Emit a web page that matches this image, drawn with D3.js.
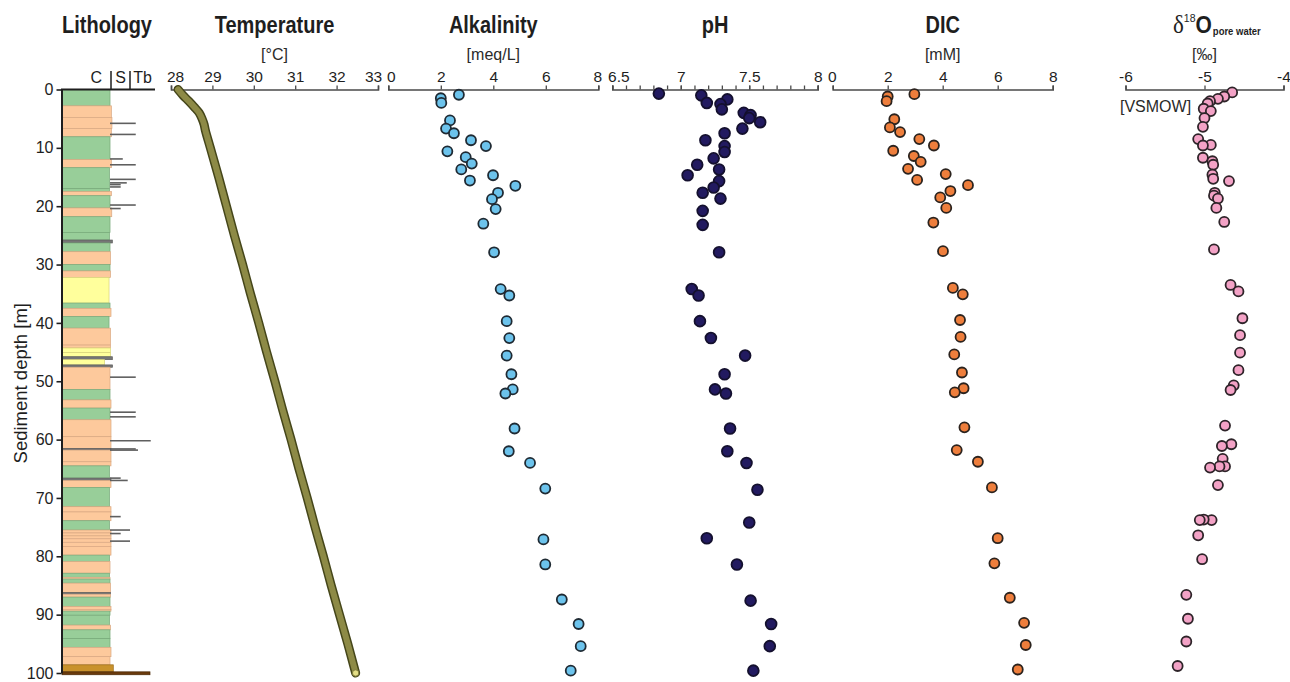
<!DOCTYPE html>
<html>
<head>
<meta charset="utf-8">
<script src="https://cdn.jsdelivr.net/npm/d3@7"></script>
<style>
  body { margin: 0; background: #fff; }
  svg { display: block; }
</style>
</head>
<body>
<svg id="chart" width="1290" height="682"></svg>
<script>
// ---------------- data ----------------
const depthTicks = [0, 10, 20, 30, 40, 50, 60, 70, 80, 90, 100];
const tempTicks = [28, 29, 30, 31, 32, 33];
const alkTicks = [0, 2, 4, 6, 8];
const phTicks = [6.5, 7, 7.5, 8];
const dicTicks = [0, 2, 4, 6, 8];
const d18Ticks = [-6, -5, -4];

// downhole temperature log
const tempDepth = [0, 1, 2, 3, 4, 5, 6, 7, 10, 15, 20, 25, 30, 35, 40, 45, 50, 55, 60, 65, 70, 75, 80, 85, 90, 95, 100];
const tempValue = [28.17, 28.29, 28.43, 28.56, 28.68, 28.75, 28.80, 28.83, 28.95, 29.15, 29.34, 29.53, 29.73, 29.92, 30.12, 30.31, 30.51, 30.70, 30.90, 31.09, 31.29, 31.48, 31.68, 31.87, 32.07, 32.27, 32.46];

// alkalinity [meq/L]
const alkDepth = [0.9, 1.5, 2.3, 5.3, 6.7, 7.5, 8.7, 9.7, 10.6, 11.6, 12.7, 13.7, 14.7, 15.6, 16.5, 17.7, 18.8, 20.5, 23.0, 27.9, 34.2, 35.3, 39.7, 42.6, 45.6, 48.8, 51.4, 52.1, 58.1, 62.0, 64.0, 68.4, 77.1, 81.4, 87.4, 91.6, 95.4, 99.6];
const alkValue = [2.69, 2.0, 2.02, 2.35, 2.2, 2.5, 3.15, 3.72, 2.25, 2.95, 3.18, 2.78, 3.99, 3.11, 4.84, 4.18, 3.95, 4.09, 3.62, 4.03, 4.28, 4.61, 4.51, 4.61, 4.51, 4.69, 4.74, 4.46, 4.81, 4.59, 5.40, 5.98, 5.91, 5.98, 6.61, 7.25, 7.33, 6.95];

// pH
const phDepth = [0.7, 1.0, 1.7, 2.3, 2.5, 3.4, 4.0, 4.4, 4.9, 5.6, 6.7, 7.5, 8.7, 9.7, 10.7, 11.8, 12.9, 13.7, 14.7, 15.7, 16.8, 17.7, 18.7, 20.8, 23.2, 27.9, 34.2, 35.3, 39.7, 42.6, 45.6, 48.8, 51.4, 52.1, 58.1, 62.0, 64.0, 68.6, 74.2, 76.9, 81.4, 87.6, 91.6, 95.4, 99.6];
const phValue = [6.84, 7.15, 7.34, 7.19, 7.29, 7.30, 7.46, 7.51, 7.50, 7.58, 7.45, 7.32, 7.18, 7.32, 7.32, 7.24, 7.12, 7.28, 7.05, 7.28, 7.24, 7.16, 7.29, 7.16, 7.16, 7.28, 7.08, 7.13, 7.14, 7.22, 7.47, 7.32, 7.25, 7.33, 7.36, 7.34, 7.48, 7.56, 7.50, 7.19, 7.41, 7.51, 7.66, 7.65, 7.53];

// dissolved inorganic carbon [mM]
const dicDepth = [0.8, 1.2, 2.0, 5.1, 6.5, 7.3, 8.5, 9.6, 10.5, 11.4, 12.4, 13.6, 14.5, 15.5, 16.4, 17.4, 18.5, 20.3, 22.8, 27.7, 34.0, 35.1, 39.5, 42.4, 45.4, 48.5, 51.2, 51.9, 57.9, 61.8, 63.8, 68.2, 76.9, 81.2, 87.1, 91.4, 95.2, 99.4];
const dicValue = [2.97, 2.0, 1.96, 2.24, 2.08, 2.45, 3.15, 3.68, 2.2, 2.95, 3.2, 2.74, 4.11, 3.07, 4.92, 4.28, 3.91, 4.13, 3.66, 4.01, 4.37, 4.73, 4.63, 4.65, 4.42, 4.70, 4.76, 4.44, 4.79, 4.51, 5.28, 5.79, 6.0, 5.88, 6.44, 6.96, 7.02, 6.73];

// pore-water oxygen isotopes [‰ VSMOW]
const d18Depth = [0.5, 1.2, 1.6, 2.0, 2.4, 3.3, 3.7, 4.9, 6.4, 8.5, 9.5, 9.6, 11.7, 12.3, 12.9, 14.6, 15.3, 15.7, 17.7, 18.2, 18.7, 20.3, 22.7, 27.4, 33.5, 34.6, 39.2, 42.1, 45.1, 48.1, 50.7, 51.5, 57.6, 60.8, 61.1, 63.3, 64.6, 64.6, 64.8, 67.8, 73.8, 73.7, 73.8, 76.4, 80.5, 86.6, 90.7, 94.6, 98.8];
const d18Value = [-4.65, -4.75, -4.83, -4.93, -4.96, -5.01, -4.92, -5.0, -5.02, -5.08, -4.92, -5.02, -5.02, -4.90, -4.89, -4.90, -4.89, -4.69, -4.87, -4.88, -4.83, -4.85, -4.75, -4.88, -4.67, -4.57, -4.52, -4.55, -4.55, -4.57, -4.63, -4.67, -4.74, -4.66, -4.78, -4.77, -4.74, -4.81, -4.93, -4.83, -4.91, -5.01, -5.06, -5.08, -5.03, -5.23, -5.21, -5.23, -5.34];

// lithology log: bed top, bed base [m], facies, grain-size reach (0-1 = C, 1-2 = S, 2-3 = Tb)
const lithTop   = [0, 2.8, 4.8, 6.7, 8.1, 12.0, 13.4, 17.0, 17.5, 18.2, 20.3, 21.8, 24.5, 25.8, 26.3, 27.8, 30.0, 31.1, 32.2, 36.6, 37.5, 38.9, 40.9, 43.8, 44.3, 45.1, 45.8, 46.3, 47.2, 47.6, 51.4, 53.2, 54.6, 56.6, 59.5, 61.5, 61.8, 63.8, 64.5, 66.6, 67.0, 68.2, 71.5, 72.4, 73.9, 75.5, 76.0, 76.5, 77.0, 77.6, 78.3, 79.8, 80.9, 82.9, 83.6, 83.9, 84.6, 86.2, 86.5, 87.0, 88.6, 89.1, 89.4, 90.1, 91.8, 92.6, 94.1, 95.6, 97.2, 98.6, 99.8];
const lithBase  = [2.8, 4.8, 6.7, 8.1, 12.0, 13.4, 17.0, 17.5, 18.2, 20.3, 21.8, 24.5, 25.8, 26.3, 27.8, 30.0, 31.1, 32.2, 36.6, 37.5, 38.9, 40.9, 43.8, 44.3, 45.1, 45.8, 46.3, 47.2, 47.6, 51.4, 53.2, 54.6, 56.6, 59.5, 61.5, 61.8, 63.8, 64.5, 66.6, 67.0, 68.2, 71.5, 72.4, 73.9, 75.5, 76.0, 76.5, 77.0, 77.6, 78.3, 79.8, 80.9, 82.9, 83.6, 83.9, 84.6, 86.2, 86.5, 87.0, 88.6, 89.1, 89.4, 90.1, 91.8, 92.6, 94.1, 95.6, 97.2, 98.6, 99.8, 100.3];
const lithFacies = ["mud", "silt", "silt", "silt", "mud", "silt", "mud", "mud", "silt", "mud", "silt", "mud", "mud", "ash", "mud", "silt", "mud", "silt", "sand", "mud", "silt", "mud", "silt", "silt", "sand", "sand", "ash", "sand", "ash", "silt", "mud", "silt", "mud", "silt", "silt", "ash", "silt", "silt", "mud", "ash", "silt", "mud", "silt", "silt", "mud", "silt", "silt", "silt", "silt", "silt", "silt", "mud", "silt", "mud", "silt", "mud", "silt", "ash", "silt", "mud", "silt", "silt", "mud", "mud", "silt", "mud", "mud", "silt", "silt", "oxide", "basement"];
const lithReach = [0.98, 1.02, 1.05, 1.02, 0.98, 1.02, 0.97, 0.97, 1.02, 0.98, 1.04, 0.98, 0.97, 1.07, 0.98, 0.99, 0.98, 0.99, 0.96, 0.98, 1.0, 0.96, 0.99, 0.99, 0.99, 0.99, 1.07, 0.87, 1.08, 0.98, 0.98, 1.0, 0.98, 1.0, 1.0, 1.0, 1.0, 1.0, 0.97, 1.0, 1.0, 0.97, 1.0, 1.0, 0.97, 1.0, 1.0, 1.0, 1.0, 1.0, 1.0, 0.97, 0.98, 0.97, 0.98, 0.98, 0.99, 0.99, 0.99, 0.98, 1.0, 1.0, 0.98, 0.97, 0.99, 0.98, 0.98, 1.0, 0.98, 1.12, 2.8];

// turbidite bases: depth [m] and grain-size reach
const tbDepth = [5.8, 7.7, 11.9, 12.9, 15.4, 16.0, 16.3, 16.7, 19.8, 20.4, 49.3, 55.3, 56.1, 60.2, 61.6, 61.8, 66.6, 67.0, 73.2, 75.5, 76.1, 77.4];
const tbReach = [2.23, 2.23, 1.62, 2.23, 2.23, 1.83, 1.51, 1.51, 2.23, 1.51, 2.23, 2.23, 2.23, 2.83, 2.23, 2.32, 1.51, 1.88, 1.51, 2.0, 1.51, 2.0];

// ---------------- drawing ----------------
const SANS = '"Liberation Sans", Arial, Helvetica, sans-serif';
const SERIF = '"Liberation Serif", "Times New Roman", serif';
const INK = "#1e1e1e";
const TICK_FONT = 15.5;

const svg = d3.select("#chart");
const y = d3.scaleLinear().domain([0, 100]).range([89.5, 673]);

// grain-size scale of the lithology column (C | S | Tb)
const grain = d3.scaleLinear().domain([0, 1, 2, 3]).range([62, 111, 130, 155]);

const faciesFill = {
  mud: "#98ce99", silt: "#fdc99c", sand: "#ffff9c", ash: "#767676",
  oxide: "#c9922c", basement: "#6a3a0c"
};
const faciesEdge = {
  mud: "#76a878", silt: "#d9a882", sand: "#d8d37a", ash: "#5a5a5a",
  oxide: "#9a6a18", basement: "#4a2806"
};

// bold panel heading, slightly condensed (tall) look
function heading(x, label) {
  return svg.append("text")
    .attr("transform", `translate(${x},33) scale(1,1.16)`)
    .attr("text-anchor", "middle")
    .attr("font-family", SANS).attr("font-weight", "bold").attr("font-size", 20).attr("fill", INK)
    .text(label);
}

// ---- lithology column ----
const lith = svg.append("g");
const beds = lithTop.map((t, i) => ({ top: t, base: lithBase[i], facies: lithFacies[i], reach: lithReach[i] }));
lith.selectAll("rect.bed").data(beds).join("rect")
  .attr("class", "bed")
  .attr("x", grain(0))
  .attr("y", d => y(d.top))
  .attr("width", d => grain(d.reach) - grain(0))
  .attr("height", d => y(d.base) - y(d.top))
  .attr("fill", d => faciesFill[d.facies])
  .attr("stroke", d => faciesEdge[d.facies])
  .attr("stroke-width", 0.7);

const tb = tbDepth.map((d, i) => ({ depth: d, reach: tbReach[i] }));
lith.selectAll("line.tb").data(tb).join("line")
  .attr("class", "tb")
  .attr("x1", grain(0.98)).attr("x2", d => grain(d.reach))
  .attr("y1", d => y(d.depth)).attr("y2", d => y(d.depth))
  .attr("stroke", "#5f5f5f").attr("stroke-width", 1.6);

// depth axis
const yAxis = svg.append("g").attr("transform", `translate(${grain(0) - 0.5},0)`)
  .call(d3.axisLeft(y).tickValues(depthTicks).tickSize(5).tickSizeOuter(0).tickPadding(3));
yAxis.select(".domain").attr("stroke", INK).attr("stroke-width", 2);
yAxis.selectAll(".tick line").attr("stroke", INK).attr("stroke-width", 1.6);
yAxis.selectAll(".tick text").attr("font-family", SANS).attr("font-size", 16).attr("fill", INK);

svg.append("text")
  .attr("transform", `translate(27,${(y(0) + y(100)) / 2 + 2}) rotate(-90)`)
  .attr("text-anchor", "middle")
  .attr("font-family", SANS).attr("font-size", 18.5).attr("fill", INK)
  .text("Sediment depth [m]");

// lithology header with grain-size classes
const head = svg.append("g");
head.append("line").attr("x1", grain(0) - 1).attr("x2", grain(3)).attr("y1", y(0)).attr("y2", y(0))
  .attr("stroke", INK).attr("stroke-width", 2);
[1, 2].forEach(g => head.append("line")
  .attr("x1", grain(g)).attr("x2", grain(g)).attr("y1", 71).attr("y2", y(0))
  .attr("stroke", INK).attr("stroke-width", 1.5));
const classNames = ["C", "S", "Tb"];
const classPos = [0.7, 1.5, 2.5];
classNames.forEach((c, i) => head.append("text")
  .attr("x", grain(classPos[i])).attr("y", 83)
  .attr("text-anchor", "middle").attr("font-family", SANS).attr("font-size", 16).attr("fill", INK)
  .text(c));

heading(107, "Lithology");

// ---- property panels ----
// edge: horizontal nudges of the first and last tick label, so neighbouring axes' labels do not collide
const panels = [
  { title: "Temperature", unit: "[°C]", domain: [28, 33], range: [171, 378], ticks: tempTicks, edge: [4, -5] },
  { title: "Alkalinity", unit: "[meq/L]", domain: [0, 8], range: [388.3, 598.3], ticks: alkTicks, edge: [2.5, -1],
    depth: alkDepth, value: alkValue, fill: "#6cc3ec", stroke: "#1f2a33", r: 5.0 },
  { title: "pH", unit: null, domain: [6.5, 8], range: [612.3, 817.7], ticks: phTicks, minor: 0.1, edge: [6, 0],
    depth: phDepth, value: phValue, fill: "#221a60", stroke: "#14102e", r: 5.4 },
  { title: "DIC", unit: "[mM]", domain: [0, 8], range: [832.7, 1052.7], ticks: dicTicks, edge: [-1, 0],
    depth: dicDepth, value: dicValue, fill: "#ee7e3c", stroke: "#2b231e", r: 5.0 },
  { title: null, unit: "[‰]", domain: [-6, -4], range: [1125.5, 1283.5], ticks: d18Ticks, edge: [0, 0],
    depth: d18Depth, value: d18Value, fill: "#f3a2c6", stroke: "#2e2429", r: 5.0 }
];

panels.forEach(p => {
  p.x = d3.scaleLinear().domain(p.domain).range(p.range);
  const cx = (p.range[0] + p.range[1]) / 2;
  const g = svg.append("g");

  // minor ticks (pH)
  if (p.minor) {
    const n = Math.round((p.domain[1] - p.domain[0]) / p.minor);
    const minorTicks = d3.range(n + 1).map(i => +(p.domain[0] + i * p.minor).toFixed(2));
    const mg = g.append("g").attr("transform", `translate(0,${y(0)})`)
      .call(d3.axisTop(p.x).tickValues(minorTicks).tickSize(4).tickSizeOuter(0).tickFormat(""));
    mg.select(".domain").remove();
    mg.selectAll(".tick line").attr("stroke", "#4a4a4a").attr("stroke-width", 1.3);
  }

  const ax = g.append("g").attr("transform", `translate(0,${y(0)})`)
    .call(d3.axisTop(p.x).tickValues(p.ticks).tickSize(4).tickSizeOuter(4).tickPadding(4)
      .tickFormat(d => String(d)));
  ax.select(".domain").attr("stroke", "#4a4a4a").attr("stroke-width", 1.6);
  ax.selectAll(".tick line").attr("stroke", "#4a4a4a").attr("stroke-width", 1.3);
  const nTicks = p.ticks.length;
  ax.selectAll(".tick text")
    .attr("font-family", SANS).attr("font-size", TICK_FONT).attr("fill", INK)
    .attr("dx", (d, i) => i === 0 ? p.edge[0] : (i === nTicks - 1 ? p.edge[1] : 0));

  if (p.title) heading(cx, p.title);
  if (p.unit) {
    g.append("text").attr("x", cx).attr("y", 60).attr("text-anchor", "middle")
      .attr("font-family", SANS).attr("font-size", 16).attr("fill", "#2a2a2a")
      .text(p.unit);
  }

  if (p.depth) {
    const pts = p.depth.map((d, i) => ({ depth: d, value: p.value[i] }));
    g.selectAll("circle").data(pts).join("circle")
      .attr("cx", d => p.x(d.value))
      .attr("cy", d => y(d.depth))
      .attr("r", p.r)
      .attr("fill", p.fill)
      .attr("stroke", p.stroke)
      .attr("stroke-width", 1.8);
  }
});

// δ18O title with super/subscripts
const isoTitle = svg.append("text")
  .attr("transform", "translate(1173,33) scale(1,1.1)")
  .attr("fill", INK);
isoTitle.append("tspan").attr("font-family", SERIF).attr("font-size", 23).text("δ");
isoTitle.append("tspan").attr("font-family", SANS).attr("font-size", 10.5).attr("dy", -10).text("18");
isoTitle.append("tspan").attr("font-family", SANS).attr("font-weight", "bold").attr("font-size", 21).attr("dy", 10).text("O");
isoTitle.append("tspan").attr("font-family", SANS).attr("font-weight", "bold").attr("font-size", 9.5).attr("dy", 2).attr("dx", 1).text("pore water");

svg.append("text").attr("x", 1120).attr("y", 112)
  .attr("font-family", SANS).attr("font-size", 16).attr("fill", "#2a2a2a")
  .text("[VSMOW]");

// ---- temperature log ----
const xT = panels[0].x;
const tempPts = tempDepth.map((d, i) => ({ depth: d, value: tempValue[i] }));
const tLine = d3.line().x(d => xT(d.value)).y(d => y(d.depth)).curve(d3.curveCatmullRom);
const tg = svg.append("g");
tg.append("path").attr("d", tLine(tempPts)).attr("fill", "none")
  .attr("stroke", "#45461a").attr("stroke-width", 9).attr("stroke-linecap", "round");
tg.append("path").attr("d", tLine(tempPts)).attr("fill", "none")
  .attr("stroke", "#8d8a46").attr("stroke-width", 6).attr("stroke-linecap", "round");
const last = tempPts[tempPts.length - 1];
tg.append("circle").attr("cx", xT(last.value)).attr("cy", y(last.depth)).attr("r", 3.2)
  .attr("fill", "#e4df86").attr("stroke", "#7c7a3a").attr("stroke-width", 1);
</script>
</body>
</html>
